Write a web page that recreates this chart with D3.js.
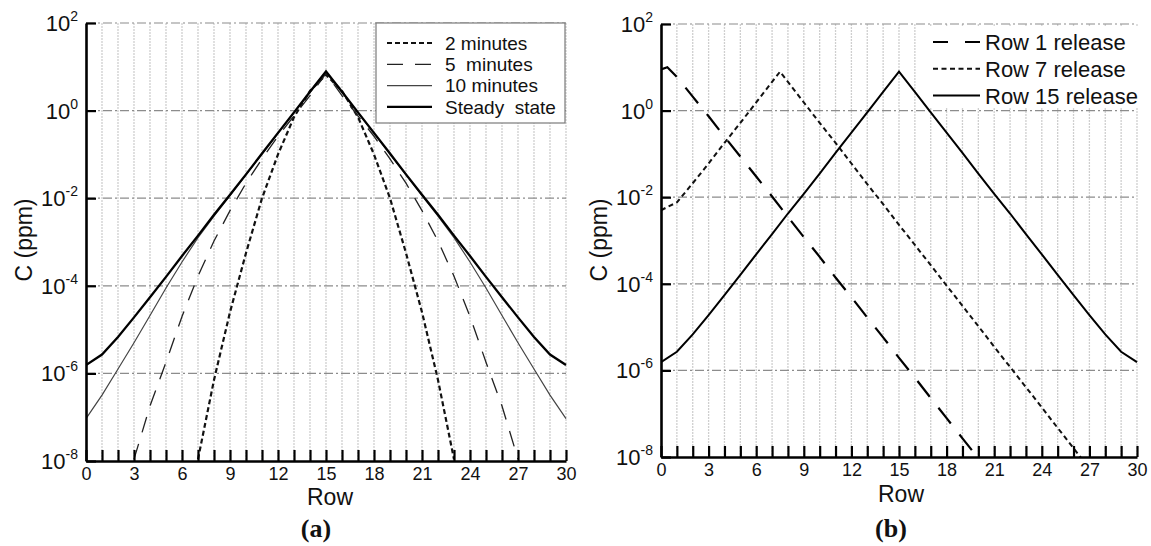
<!DOCTYPE html>
<html>
<head>
<meta charset="utf-8">
<script src="https://cdn.jsdelivr.net/npm/d3@7.9.0/dist/d3.min.js"></script>
<style>
  body { margin: 0; background: #fff; }
  text { font-family: Arial, "Liberation Sans", sans-serif; fill: #111; }
</style>
</head>
<body>
<svg id="chart" width="1151" height="546"></svg>
<script>
// rows along the x axis
const rowTicks = d3.range(0, 31);
const rowLabels = [0, 3, 6, 9, 12, 15, 18, 21, 24, 27, 30];
const decades = [1e-8, 1e-6, 1e-4, 1e-2, 1e0, 1e2];
const decadeExp = ['-8', '-6', '-4', '-2', '0', '2'];

// panel (a): concentration (ppm) per row, release at row 15
const rowsSteady = d3.range(0, 31);
const steady = [1.55e-6, 2.7e-6, 6.8e-6, 1.9e-5, 5.5e-5, 1.6e-4, 4.8e-4, 1.4e-3, 4.2e-3, 1.2e-2, 3.5e-2,
  0.105, 0.31, 0.91, 2.7, 7.9, 2.7, 0.91, 0.31, 0.105, 3.5e-2, 1.2e-2, 4.2e-3, 1.4e-3, 4.8e-4, 1.6e-4,
  5.5e-5, 1.9e-5, 6.8e-6, 2.7e-6, 1.55e-6];
const rows10 = d3.range(0, 31);
const min10 = [9.3e-8, 3.2e-7, 1.26e-6, 5.0e-6, 2.1e-5, 8.9e-5, 3.5e-4, 1.26e-3, 3.9e-3, 1.15e-2, 3.4e-2,
  0.102, 0.30, 0.89, 2.6, 7.6, 2.6, 0.89, 0.30, 0.102, 3.4e-2, 1.15e-2, 3.9e-3, 1.26e-3, 3.5e-4, 8.9e-5,
  2.1e-5, 5.0e-6, 1.26e-6, 3.2e-7, 9.3e-8];
const rows5 = d3.range(3, 28);
const min5 = [1.1e-8, 1.8e-7, 1.8e-6, 2.0e-5, 1.66e-4, 1.05e-3, 5.2e-3, 2.2e-2, 7.9e-2, 0.26, 0.76, 2.2, 7.1,
  2.2, 0.76, 0.26, 7.9e-2, 2.2e-2, 5.2e-3, 1.05e-3, 1.66e-4, 2.0e-5, 1.8e-6, 1.8e-7, 1.1e-8];
const rows2 = d3.range(7, 24);
const min2 = [1.1e-8, 7.1e-7, 2.5e-5, 5.6e-4, 1.0e-2, 0.10, 0.71, 2.8, 6.6,
  2.8, 0.71, 0.10, 1.0e-2, 5.6e-4, 2.5e-5, 7.1e-7, 1.1e-8];

// panel (b): steady state for three release rows
const rowsR1 = [0, 0.4, 1, 2, 3, 4, 5, 6, 7, 8, 9, 10, 11, 12, 13, 14, 15, 16, 17, 18, 19, 20];
const rel1 = [8.9, 10, 6.0, 2.1, 0.74, 0.25, 8.7e-2, 3.0e-2, 1.04e-2, 3.5e-3, 1.2e-3, 4.2e-4, 1.4e-4,
  4.9e-5, 1.66e-5, 5.8e-6, 1.95e-6, 6.8e-7, 2.3e-7, 7.9e-8, 2.7e-8, 9.3e-9];
const rowsR7 = [0, 1, 2, 3, 4, 5, 6, 7, 7.5, 8, 9, 10, 11, 12, 13, 14, 15, 16, 17, 18, 19, 20, 21, 22, 23, 24, 25, 26, 27];
const rel7 = [5.0e-3, 7.6e-3, 2.1e-2, 6.0e-2, 0.18, 0.52, 1.55, 4.6, 7.9, 4.6, 1.55, 0.52, 0.18, 6.0e-2,
  2.0e-2, 6.9e-3, 2.3e-3, 7.9e-4, 2.7e-4, 9.1e-5, 3.1e-5, 1.05e-5, 3.5e-6, 1.2e-6, 4.1e-7, 1.4e-7, 4.7e-8,
  1.6e-8, 5.4e-9];
const rowsR15 = d3.range(0, 31);
const rel15 = [1.55e-6, 2.7e-6, 6.8e-6, 1.9e-5, 5.5e-5, 1.6e-4, 4.8e-4, 1.4e-3, 4.2e-3, 1.2e-2, 3.5e-2,
  0.105, 0.31, 0.91, 2.7, 7.9, 2.7, 0.91, 0.31, 0.105, 3.5e-2, 1.2e-2, 4.2e-3, 1.4e-3, 4.8e-4, 1.6e-4,
  5.5e-5, 1.9e-5, 6.8e-6, 2.7e-6, 1.55e-6];

const svg = d3.select('#chart');

function drawPanel(p) {
  const x = d3.scaleLinear().domain([0, 30]).range([p.left, p.right]);
  const y = d3.scaleLog().domain([1e-8, 1e2]).range([p.bottom, p.top]);
  const g = svg.append('g');

  const clipId = 'clip-' + p.id;
  svg.append('clipPath').attr('id', clipId)
    .append('rect')
    .attr('x', p.left).attr('y', p.top - 5)
    .attr('width', p.right - p.left + 2).attr('height', p.bottom - p.top + 5);

  // vertical grid
  g.selectAll('.vgrid').data(rowTicks.slice(1)).join('line')
    .attr('x1', d => x(d)).attr('x2', d => x(d))
    .attr('y1', p.top).attr('y2', p.bottom)
    .attr('stroke', '#cfcfcf').attr('stroke-width', 1.3)
    .attr('stroke-dasharray', '2,1');

  // horizontal grid (dash-dot)
  g.selectAll('.hgrid').data(decades.slice(1)).join('line')
    .attr('x1', p.left).attr('x2', p.right)
    .attr('y1', d => y(d)).attr('y2', d => y(d))
    .attr('stroke', '#8c8c8c').attr('stroke-width', 1.2)
    .attr('stroke-dasharray', '9,3,2,3');

  // legend background
  const lg = p.legend;
  g.append('rect')
    .attr('x', lg.x).attr('y', lg.y).attr('width', lg.w).attr('height', lg.h)
    .attr('fill', '#fff')
    .attr('stroke', lg.border ? '#7a7a7a' : 'none').attr('stroke-width', 1.2);

  // series
  const line = d3.line()
    .x(d => x(d[0]))
    .y(d => y(d[1]));
  p.series.forEach(s => {
    g.append('path')
      .datum(d3.zip(s.rows, s.values))
      .attr('clip-path', `url(#${clipId})`)
      .attr('d', line)
      .attr('fill', 'none')
      .attr('stroke', s.color)
      .attr('stroke-width', s.width)
      .attr('stroke-dasharray', s.dash);
  });

  // legend entries
  p.series.forEach((s, i) => {
    const cy = lg.rowY + i * lg.step;
    g.append('line')
      .attr('x1', lg.lx1).attr('x2', lg.lx2).attr('y1', cy).attr('y2', cy)
      .attr('stroke', s.color).attr('stroke-width', s.width)
      .attr('stroke-dasharray', s.legendDash || s.dash);
    g.append('text')
      .attr('x', lg.tx).attr('y', cy + lg.fs * 0.36)
      .attr('font-size', lg.fs)
      .style('white-space', 'pre')
      .text(s.name);
  });

  // x axis, ticks pointing inward
  const xAxis = d3.axisBottom(x)
    .tickValues(rowTicks)
    .tickSize(-11)
    .tickSizeOuter(0)
    .tickPadding(6)
    .tickFormat(d => rowLabels.includes(d) ? d : '');
  const xa = g.append('g').attr('transform', `translate(0,${p.bottom})`).call(xAxis);
  xa.select('.domain').attr('stroke', '#000').attr('stroke-width', 2.6);
  xa.selectAll('.tick line').attr('stroke', '#000').attr('stroke-width', 2.2);
  xa.selectAll('.tick text')
    .attr('font-size', 18).attr('font-family', 'Arial, "Liberation Sans", sans-serif').attr('fill', '#222');

  // y axis
  const yAxis = d3.axisLeft(y)
    .tickValues(decades)
    .tickSize(-10)
    .tickSizeOuter(0)
    .tickFormat('');
  const ya = g.append('g').attr('transform', `translate(${p.left},0)`).call(yAxis);
  ya.select('.domain').attr('stroke', '#000').attr('stroke-width', 2.6);
  ya.selectAll('.tick line').attr('stroke', '#000').attr('stroke-width', 2.2);

  // y tick labels 10^n
  decades.forEach((d, i) => {
    const t = g.append('text')
      .attr('x', p.left - 8).attr('y', y(d) + 8)
      .attr('text-anchor', 'end')
      .attr('font-size', 22)
      .attr('fill', '#222');
    t.append('tspan').text('10');
    t.append('tspan').attr('dy', -10).attr('font-size', 14).text(decadeExp[i]);
  });

  // axis titles
  g.append('text')
    .attr('x', p.rowX).attr('y', p.rowY)
    .attr('text-anchor', 'middle').attr('font-size', 23).attr('fill', '#222')
    .text('Row');
  g.append('text')
    .attr('transform', `translate(${p.cX},240) rotate(-90)`)
    .attr('text-anchor', 'middle').attr('font-size', 23).attr('fill', '#222')
    .text('C (ppm)');

  // panel caption
  g.append('text')
    .attr('x', p.capX).attr('y', 537)
    .attr('text-anchor', 'middle')
    .attr('font-size', 26).attr('font-weight', 'bold')
    .style('font-family', '"Times New Roman", "Liberation Serif", serif')
    .attr('fill', '#000')
    .text(p.caption);
}

drawPanel({
  id: 'a', left: 86, right: 566, top: 23, bottom: 461,
  rowX: 330, rowY: 505, cX: 32, capX: 316, caption: '(a)',
  legend: { x: 376, y: 23, w: 189, h: 100, border: true, lx1: 387, lx2: 432, tx: 445,
    rowY: 43, step: 21.3, fs: 19 },
  series: [
    { name: '2 minutes', rows: rows2, values: min2, color: '#111', width: 2.2, dash: '5,3' },
    { name: '5  minutes', rows: rows5, values: min5, color: '#222', width: 1.3, dash: '16,12' },
    { name: '10 minutes', rows: rows10, values: min10, color: '#444', width: 1.2, dash: null },
    { name: 'Steady  state', rows: rowsSteady, values: steady, color: '#000', width: 2.3, dash: null }
  ]
});

drawPanel({
  id: 'b', left: 661, right: 1137, top: 24, bottom: 457,
  rowX: 901, rowY: 502, cX: 607, capX: 891, caption: '(b)',
  legend: { x: 922, y: 27, w: 218, h: 81, border: false, lx1: 933, lx2: 980, tx: 985,
    rowY: 42, step: 26.8, fs: 22 },
  series: [
    { name: 'Row 1 release', rows: rowsR1, values: rel1, color: '#000', width: 2.2, dash: '20,14', legendDash: '15,17' },
    { name: 'Row 7 release', rows: rowsR7, values: rel7, color: '#111', width: 2, dash: '5,3.5' },
    { name: 'Row 15 release', rows: rowsR15, values: rel15, color: '#000', width: 2, dash: null }
  ]
});
</script>
</body>
</html>
